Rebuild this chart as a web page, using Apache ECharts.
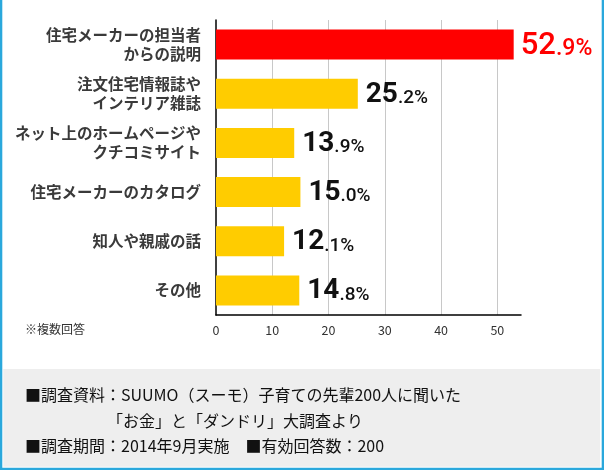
<!DOCTYPE html>
<html>
<head>
<meta charset="utf-8">
<script src="https://cdn.jsdelivr.net/npm/echarts@6/dist/echarts.min.js"></script>
<style>
html,body{margin:0;padding:0;background:#fff;}
#c{width:604px;height:470px;}
</style>
</head>
<body>
<div id="c"></div>
<script>
const categories = ['住宅メーカーの担当者\nからの説明', '注文住宅情報誌や\nインテリア雑誌', 'ネット上のホームページや\nクチコミサイト', '住宅メーカーのカタログ', '知人や親戚の話', 'その他'];
const values = [52.9, 25.2, 13.9, 15.0, 12.1, 14.8];
const xTicks = [0, 10, 20, 30, 40, 50];
const note = '※複数回答';
const footer1 = '■調査資料：SUUMO（スーモ）子育ての先輩200人に聞いた';
const footer2 = '「お金」と「ダンドリ」大調査より';
const footer3 = '■調査期間：2014年9月実施　■有効回答数：200';

const CJK = '"Noto Sans CJK JP", sans-serif';
const NUM = 'Roboto, "Liberation Sans", sans-serif';
const BLUE = '#2aa8dc';

const chart = echarts.init(document.getElementById('c'));
chart.setOption({
  animation: false,
  backgroundColor: '#fff',
  grid: { left: 216, right: 83, top: 20, height: 295, containLabel: false },
  xAxis: {
    type: 'value', min: 0, max: 54.2, interval: 10,
    axisLine: { show: true, lineStyle: { color: '#000', width: 1.5 } },
    axisTick: { show: false },
    axisLabel: {
      margin: 9, color: '#333', fontSize: 12.5, fontFamily: CJK,
      showMaxLabel: false,
      formatter: v => (xTicks.indexOf(v) >= 0 ? String(v) : '')
    },
    splitLine: { show: true, lineStyle: { color: ['rgba(0,0,0,0)', '#c8c8c8', '#c8c8c8', '#c8c8c8', '#c8c8c8', '#c8c8c8', 'rgba(0,0,0,0)'], width: 1 } }
  },
  yAxis: {
    type: 'category', data: categories, inverse: true,
    axisLine: { show: true, lineStyle: { color: '#000', width: 1.5 } },
    axisTick: { show: false },
    axisLabel: { margin: 15, color: '#3a3a3a', fontSize: 15.5, fontWeight: 'bold', fontFamily: CJK, lineHeight: 19, align: 'right' }
  },
  series: [{
    type: 'bar',
    data: values.map((v, i) => ({
      value: v,
      itemStyle: { color: i === 0 ? '#ff0000' : '#ffcc00' },
      label: i === 0 ? {
        distance: 7,
        rich: {
          a: { fontSize: 31, fontFamily: NUM, fontWeight: 500, color: '#ff0000', verticalAlign: 'bottom', lineHeight: 34 },
          b: { fontSize: 23, fontFamily: NUM, fontWeight: 500, color: '#ff0000', verticalAlign: 'bottom', lineHeight: 34, padding: [0, 0, 1, 0] }
        }
      } : {}
    })),
    barWidth: 30,
    label: {
      show: true, position: 'right', distance: 8,
      formatter: p => {
        const s = p.value.toFixed(1);
        const k = s.indexOf('.');
        return '{a|' + s.slice(0, k) + '}{b|' + s.slice(k) + '%}';
      },
      rich: {
        a: { fontSize: 28, fontFamily: NUM, fontWeight: 'bold', color: '#111', verticalAlign: 'bottom', lineHeight: 30 },
        b: { fontSize: 19, fontFamily: NUM, fontWeight: 500, color: '#111', verticalAlign: 'bottom', lineHeight: 30, padding: [0, 0, 1, 0] }
      }
    }
  }],
  graphic: [
    { type: 'text', left: 25, top: 323, style: { text: note, font: '12px ' + CJK, fill: '#333' } },
    { type: 'rect', shape: { x: 3.3, y: 369, width: 596.7, height: 97.7 }, style: { fill: '#eeeeee' }, silent: true },
    { type: 'rect', shape: { x: 0, y: 0, width: 2.3, height: 470 }, style: { fill: BLUE }, silent: true },
    { type: 'rect', shape: { x: 601.7, y: 0, width: 2.3, height: 470 }, style: { fill: BLUE }, silent: true },
    { type: 'rect', shape: { x: 0, y: 467.7, width: 604, height: 2.3 }, style: { fill: BLUE }, silent: true },
    { type: 'text', x: 25, y: 395, style: { text: footer1, font: '16px ' + CJK, fill: '#111', verticalAlign: 'middle' } },
    { type: 'text', x: 107, y: 421, style: { text: footer2, font: '16px ' + CJK, fill: '#111', verticalAlign: 'middle' } },
    { type: 'text', x: 25, y: 446, style: { text: footer3, font: '16px ' + CJK, fill: '#111', verticalAlign: 'middle' } }
  ]
});
</script>
</body>
</html>
